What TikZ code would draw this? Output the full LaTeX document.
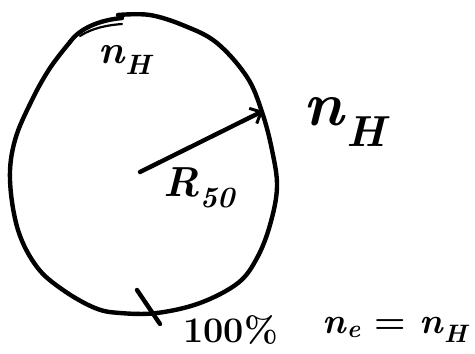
\documentclass[tikz,border=0pt]{standalone}
\usepackage{amsmath,amssymb}
\usepackage{tikz}
\usetikzlibrary{positioning,arrows.meta,calc}
\newcommand{\nsub}[2]{\textit{#1}\textsubscript{\textit{#2}}}

\begin{document}
\begin{tikzpicture}[
    x=1pt,y=-1pt,
    pen/.style={line width=4.4pt,line cap=round,line join=round,black},
    thin pen/.style={line width=2.2pt,line cap=round,black},
    hand/.style={inner sep=0pt},
    bottomlabel/.style={hand,font=\fontsize{36}{36}\selectfont\bfseries}
]
\useasboundingbox (0,0) rectangle (475,354);

% Cloud boundary
\draw[pen] plot[smooth,tension=0.6] coordinates {
  (118,15) (150,15) (185,26) (217,43) (247,77) (262,112) (272,150)
  (277,187) (270,225) (257,258) (238,283) (200,303) (157,313) (120,313)
  (95,308) (63,290) (37,267) (18,230) (10,180) (15,140) (32,100)
  (50,68) (70,42)};
\draw[pen] (70,42) .. controls (80,28) and (100,20) .. (122,18);
\draw[thin pen] (80,36) .. controls (92,28) and (108,25) .. (122,24);

% Centre and rim
\coordinate (centre) at (140,172);
\coordinate (rim) at (263,111);
\coordinate (tickA) at (137,290);
\coordinate (tickB) at (160,324);

% Radius arrow
\draw[pen,-{Straight Barb[length=9pt,width=17pt,line width=3pt]}] (centre) -- (rim);

% Tick at bottom
\draw[pen] (tickA) -- (tickB);

% Labels
\node[hand,font=\fontsize{40}{40}\selectfont\bfseries] (ntop) at (126,60) {\nsub{n}{H}};
\node[hand,font=\fontsize{62}{62}\selectfont\bfseries] (nrim) at (347,122) {\nsub{n}{H}};
\node[hand,font=\fontsize{42}{42}\selectfont\bfseries] (radius) at (200,188) {\nsub{R}{50}};
\node[bottomlabel,anchor=west] (frac) at (183,330) {100\%};
\node[bottomlabel,anchor=east] (dens) at (470,330) {\nsub{n}{e} = \nsub{n}{H}};
\end{tikzpicture}
\end{document}
